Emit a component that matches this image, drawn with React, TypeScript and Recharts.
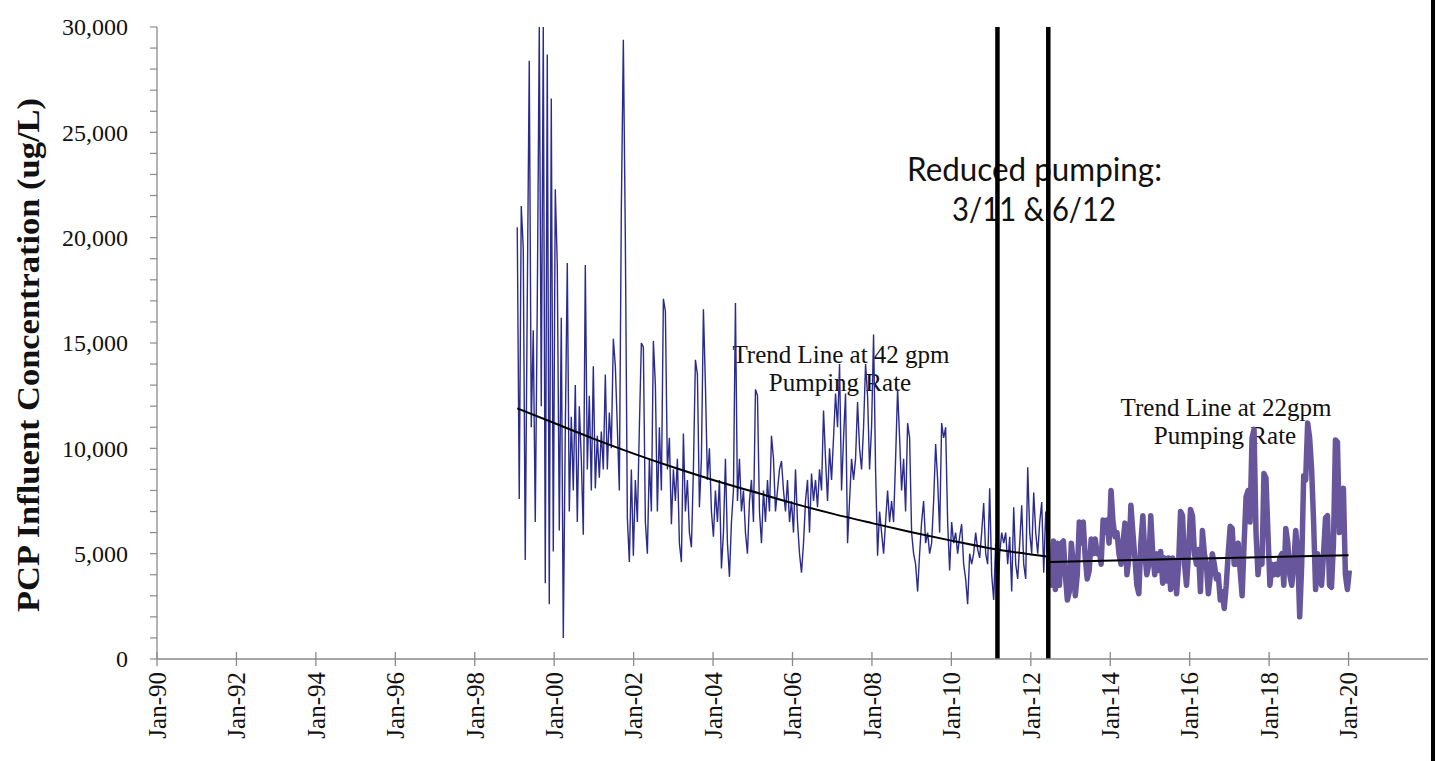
import React from 'react';
import { LineChart, Line, XAxis, YAxis, ReferenceLine } from 'recharts';

const W = 1437;
const H = 761;
const MARGIN = { top: 27, right: 9, bottom: 12, left: 0 };
const X_AXIS_H = 90;
const Y_AXIS_W = 157;
const PLOT_BOTTOM = H - MARGIN.bottom - X_AXIS_H;

const SERIF = '"Liberation Serif", "Times New Roman", serif';
const SANS = 'Lato, "Open Sans", sans-serif';

// x axis in decimal years
const xTicks = [1990, 1992, 1994, 1996, 1998, 2000, 2002, 2004, 2006, 2008, 2010, 2012, 2014, 2016, 2018, 2020];
const xTickLabels = ['Jan-90', 'Jan-92', 'Jan-94', 'Jan-96', 'Jan-98', 'Jan-00', 'Jan-02', 'Jan-04', 'Jan-06', 'Jan-08', 'Jan-10', 'Jan-12', 'Jan-14', 'Jan-16', 'Jan-18', 'Jan-20'];
const yTicks = [0, 1000, 2000, 3000, 4000, 5000, 6000, 7000, 8000, 9000, 10000, 11000, 12000, 13000, 14000, 15000, 16000, 17000, 18000, 19000, 20000, 21000, 22000, 23000, 24000, 25000, 26000, 27000, 28000, 29000, 30000];
const yLabelledTicks = [0, 5000, 10000, 15000, 20000, 25000, 30000];

// reduced pumping dates: 3/11 and 6/12
const eventYears = [2011.16, 2012.44];

// influent PCP at 42 gpm, sampled roughly every 18 days
const blueStart = 1999.07;
const blueStep = 0.0504;
const blueValues = [
  20500, 7600, 21500, 19500, 4700, 17000, 28400, 11000, 15600, 6500,
  16800, 30000, 12000, 30000, 3600, 28700, 2600, 26600, 5100, 22300,
  18700, 6100, 16200, 1000, 10800, 18800, 7000, 11500, 8000, 13000,
  6500, 12000, 9500, 5900, 18700, 9000, 12500, 8000, 13900, 8100,
  10600, 8600, 10800, 9000, 13500, 9000, 11700, 10000, 15200, 13900,
  11000, 8000, 21400, 29400, 19900, 6700, 4600, 9000, 4900, 8500,
  6500, 11000, 15000, 14800, 6500, 5000, 9500, 7000, 15100, 13000,
  7000, 11000, 8000, 17100, 16500, 9000, 10500, 6400, 9000, 7500,
  9500, 5500, 4600, 10700, 7000, 8500, 6000, 5300, 9000, 14200,
  13500, 7200, 9500, 16600, 13000, 8500, 10000, 7000, 5800, 8000,
  6500, 8500, 4300, 6000, 9500, 5500, 3900, 6500, 8000, 16900,
  7500, 9500, 7000, 8000, 6000, 5000, 7500, 8500, 6500, 12800,
  12500, 7000, 5500, 8000, 6500, 8500, 7000, 10600, 9500, 7000,
  8000, 9000, 9400, 8000, 7000, 8500, 6500, 7500, 6000, 9000,
  6500, 5000, 4100, 5500, 7500, 8500, 6000, 8800, 7500, 8500,
  7200, 9000, 8000, 11800, 9500, 7500, 10000, 8500, 10500, 12600,
  11000, 14000, 8000, 10500, 12600, 5500, 7500, 9500, 8500, 9500,
  12200, 10000, 9000, 11000, 14000, 12500, 9000, 11000, 15400, 9000,
  4900, 7000, 6000, 5000, 6500, 8000, 6500, 7500, 6500, 9500,
  12800, 10500, 8000, 9500, 7000, 11200, 10500, 6000, 5000, 4500,
  3200, 5000, 6500, 7500, 5500, 6000, 5000, 5500, 7500, 10200,
  8500, 6000, 11200, 10500, 11000, 6500, 4200, 6500, 5500, 6000,
  5000, 5800, 6400, 4500, 3800, 2600, 5000, 4500, 5000, 6000,
  5200, 4800, 6000, 7400, 5000, 4500, 8100, 4000, 2800, 5500,
  2600, 5000, 6000, 5500, 6000, 4500, 5800, 3200, 7200, 4500,
  3800, 5500, 7300, 4500, 3800, 9100, 6000, 5000, 7900, 6000,
  5000, 6500, 7450, 4100, 7000, 5000,
];

// influent PCP at 22 gpm
const purpleStart = 2012.47;
const purpleStep = 0.05;
const purpleValues = [
  4800, 3500, 5600, 3300, 5500, 3500, 5500, 5600, 4000, 2800,
  3200, 5500, 4500, 3000, 4000, 6500, 5500, 6500, 4800, 3800,
  4200, 5700, 5000, 5700, 5000, 5200, 4500, 6600, 6000, 6600,
  5500, 8000, 6500, 5800, 6000, 5000, 4500, 5500, 6450, 4000,
  4800, 7300, 6000, 4800, 3500, 3100, 5500, 6800, 5000, 4000,
  4500, 6800, 5000, 4000, 5000, 4200, 5100, 3600, 4800, 3700,
  4800, 3300, 4800, 4500, 3100, 4500, 7000, 6800, 4500, 3500,
  5000, 7100, 6800, 5000, 4500, 5200, 3200, 6100, 5000, 4500,
  3100, 4000, 5000, 4500, 3800, 4000, 2800, 3200, 2400, 3500,
  5000, 6300, 6200, 4500, 4500, 5500, 4200, 3000, 5500, 7700,
  8000, 6500, 10500, 10900, 6000, 4000, 5000, 4500, 8800, 8600,
  6000, 3500, 4500, 4000, 4500, 4000, 4800, 5000, 3500, 6200,
  5500, 4000, 3500, 4500, 6100, 5000, 2000, 4500, 8700, 8500,
  11200, 10500, 9000, 6500, 3300, 5000, 4000, 3500, 5000, 6700,
  6800, 3500, 3400, 5500, 10400, 10300, 6000, 6500, 8100, 4000,
  3300, 4200,
];

// trend lines
const trend42Years = [1999.07, 2000, 2001, 2002, 2003, 2004, 2005, 2006, 2007, 2008, 2009, 2010, 2011, 2012.44];
const trend42Values = [11900, 11200, 10450, 9750, 9100, 8500, 7950, 7400, 6900, 6450, 6020, 5620, 5250, 4850];
const trend22Years = [2012.45, 2016, 2020];
const trend22Values = [4600, 4760, 4920];

const blueData = blueValues.map((v, i) => ({ t: blueStart + i * blueStep, v }));
const purpleData = purpleValues.map((v, i) => ({ t: purpleStart + i * purpleStep, v }));
const trend42Data = trend42Years.map((t, i) => ({ t, v: trend42Values[i] }));
const trend22Data = trend22Years.map((t, i) => ({ t, v: trend22Values[i] }));

const AXIS_GREY = '#8a8a8a';

const XTick = (props: any) => {
  const { x, payload } = props;
  const label = xTickLabels[xTicks.indexOf(payload.value)] ?? '';
  const ty = PLOT_BOTTOM + 13;
  return (
    <g>
      <line x1={x} x2={x} y1={PLOT_BOTTOM - 7} y2={PLOT_BOTTOM + 7} stroke={AXIS_GREY} strokeWidth={1.3} />
      <text
        x={x}
        y={ty}
        transform={`rotate(-90, ${x}, ${ty})`}
        textAnchor="end"
        dy="0.35em"
        fontSize={25}
        fontFamily={SERIF}
        fill="#111"
      >
        {label}
      </text>
    </g>
  );
};

const YTick = (props: any) => {
  const { y, payload } = props;
  if (!yLabelledTicks.includes(payload.value)) return <g />;
  return (
    <text x={Y_AXIS_W - 29} y={y} textAnchor="end" dy="0.35em" fontSize={24} fontFamily={SERIF} fill="#111">
      {payload.value.toLocaleString('en-US')}
    </text>
  );
};

export default function App() {
  return (
    <div style={{ position: 'absolute', left: 0, top: 0, width: W, height: H, background: '#fff', overflow: 'hidden' }}>
      {/* annotations sit beneath the plotted lines */}
      <svg width={W} height={H} style={{ position: 'absolute', left: 0, top: 0 }}>
        <text
          x={39}
          y={355}
          transform="rotate(-90, 39, 355)"
          textAnchor="middle"
          fontSize={32}
          fontWeight="bold"
          fontFamily={SERIF}
          fill="#111"
          textLength={514}
          lengthAdjust="spacingAndGlyphs"
        >
          PCP  Influent Concentration (ug/L)
        </text>
        <text x={1034.5} y={181} textAnchor="middle" fontSize={33} fontFamily={SANS} fill="#111" textLength={255} lengthAdjust="spacingAndGlyphs">
          Reduced pumping:
        </text>
        <text x={1034} y={221} textAnchor="middle" fontSize={33} fontFamily={SANS} fill="#111" textLength={164} lengthAdjust="spacingAndGlyphs">
          3/11 &amp; 6/12
        </text>
        <text x={841} y={363} textAnchor="middle" fontSize={25} fontFamily={SERIF} fill="#111">
          Trend Line at 42 gpm
        </text>
        <text x={840} y={391} textAnchor="middle" fontSize={25} fontFamily={SERIF} fill="#111">
          Pumping Rate
        </text>
        <text x={1226} y={416} textAnchor="middle" fontSize={25} fontFamily={SERIF} fill="#111">
          Trend Line at 22gpm
        </text>
        <text x={1225} y={444} textAnchor="middle" fontSize={25} fontFamily={SERIF} fill="#111">
          Pumping Rate
        </text>
      </svg>
      <div style={{ position: 'absolute', left: 0, top: 0 }}>
        <LineChart width={W} height={H} margin={MARGIN}>
          <XAxis
            dataKey="t"
            type="number"
            domain={[1990, 2022]}
            ticks={xTicks}
            interval={0}
            allowDataOverflow
            height={X_AXIS_H}
            tickLine={false}
            tick={<XTick />}
            axisLine={{ stroke: AXIS_GREY, strokeWidth: 1.3 }}
          />
          <YAxis
            type="number"
            domain={[0, 30000]}
            ticks={yTicks}
            interval={0}
            allowDataOverflow
            width={Y_AXIS_W}
            tickSize={7}
            tickLine={{ stroke: AXIS_GREY, strokeWidth: 1.2 }}
            tick={<YTick />}
            axisLine={{ stroke: AXIS_GREY, strokeWidth: 1.3 }}
          />
          <Line
            data={blueData}
            dataKey="v"
            type="linear"
            stroke="#2b2b8c"
            strokeWidth={1.4}
            dot={false}
            isAnimationActive={false}
          />
          <Line
            data={purpleData}
            dataKey="v"
            type="linear"
            stroke="#67569b"
            strokeWidth={5.5}
            strokeLinejoin="round"
            dot={false}
            isAnimationActive={false}
          />
          <Line
            data={trend42Data}
            dataKey="v"
            type="monotone"
            stroke="#000"
            strokeWidth={2}
            dot={false}
            isAnimationActive={false}
          />
          <Line
            data={trend22Data}
            dataKey="v"
            type="monotone"
            stroke="#000"
            strokeWidth={2}
            dot={false}
            isAnimationActive={false}
          />
          {eventYears.map((yr) => (
            <ReferenceLine key={yr} x={yr} stroke="#000" strokeWidth={4.5} />
          ))}
        </LineChart>
      </div>
      <div style={{ position: 'absolute', left: 1431, top: 0, width: 4, height: H, background: '#000' }} />
    </div>
  );
}
